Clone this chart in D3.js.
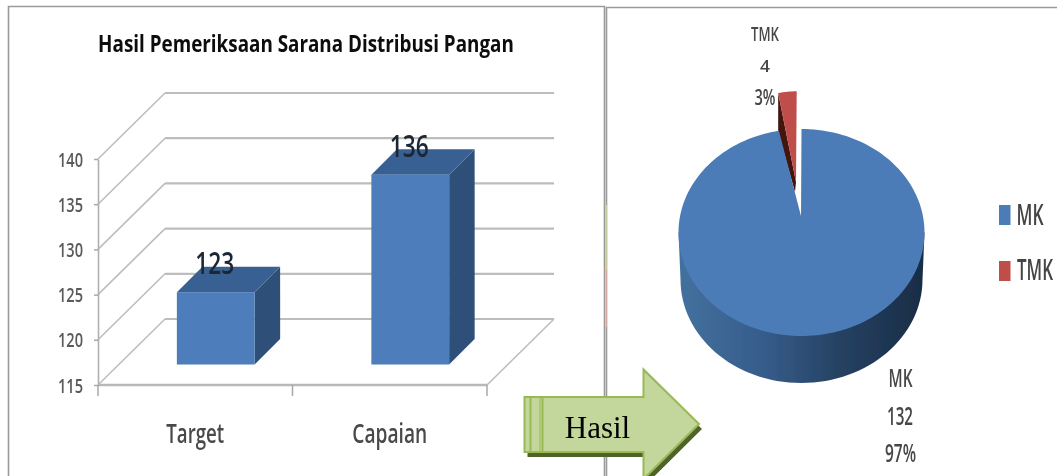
<!DOCTYPE html>
<html><head><meta charset="utf-8">
<script src="https://cdn.jsdelivr.net/npm/d3@7"></script>
<style>html,body{margin:0;padding:0;background:#fff;overflow:hidden}svg{display:block}</style>
</head><body><div id="c"></div>
<script>
const chartTitle = "Hasil Pemeriksaan Sarana Distribusi Pangan";
const categories = ["Target", "Capaian"];
const barValues = [123, 136];
const yTicks = [115, 120, 125, 130, 135, 140];
const pieLabels = ["MK", "TMK"];
const pieValues = [132, 4];
const arrowLabel = "Hasil";

const W = 1057, H = 476;
const svg = d3.select("#c").append("svg").attr("width", W).attr("height", H);
const defs = svg.append("defs");
defs.append("filter").attr("id", "soft").attr("filterUnits", "userSpaceOnUse")
  .attr("x", 0).attr("y", 0).attr("width", W).attr("height", H)
  .append("feGaussianBlur").attr("stdDeviation", 0.6);
const sideGrad = defs.append("linearGradient").attr("id", "sideGrad");
[[0, "#44719f"], [0.35, "#365c8a"], [0.65, "#264263"], [1, "#182c45"]].forEach(([o, c]) =>
  sideGrad.append("stop").attr("offset", o).attr("stop-color", c));

const FONT = "'Open Sans', sans-serif";
// draws text centred on x, squeezed horizontally to the width it has in the picture
function fit(g, str, x, y, len, size, color, weight) {
  const t = g.append("text").text(str)
    .attr("text-anchor", "middle").attr("font-family", FONT)
    .attr("font-size", size).attr("font-weight", weight || 600).attr("fill", color);
  const natural = t.node().getComputedTextLength();
  t.attr("transform", `translate(${x},${y}) scale(${len / natural},1)`);
  return t;
}

// panels
const frame = svg.append("g").attr("fill", "none").attr("stroke", "#9a9a9a");
frame.append("path").attr("d", "M8.5,476V6.5H604.5V476").attr("stroke-width", 1.6);
frame.append("path").attr("d", "M606.5,476V7.5H1057").attr("stroke-width", 1.6);
frame.append("line").attr("x1", 606.5).attr("x2", 606.5).attr("y1", 205).attr("y2", 270).attr("stroke", "#c9cc9c");
frame.append("line").attr("x1", 606.5).attr("x2", 606.5).attr("y1", 270).attr("y2", 327).attr("stroke", "#d8a6a4");

// ---- 3D column chart ----
const left = svg.append("g").attr("filter", "url(#soft)");
const y = d3.scaleLinear().domain([115, 140]).range([385, 159]);
const x = d3.scaleBand().domain(categories).range([98, 487]).paddingInner(0.6).paddingOuter(0.3);
const wallDx = 67, wallDy = -66, barInset = 20.5, barDepth = 25.5;

fit(left, chartTitle, 306, 52, 416, 23, "#0c0c0c", 700);

const grid = left.append("g");
grid.selectAll("line.back").data(yTicks).join("line").attr("class", "back")
  .attr("x1", 98 + wallDx).attr("x2", 487 + wallDx)
  .attr("y1", d => y(d) + wallDy).attr("y2", d => y(d) + wallDy)
  .attr("stroke", "#bdbdbd").attr("stroke-width", 2.2);
grid.selectAll("line.wall").data(yTicks).join("line").attr("class", "wall")
  .attr("x1", 98).attr("x2", 98 + wallDx)
  .attr("y1", d => y(d)).attr("y2", d => y(d) + wallDy)
  .attr("stroke", "#bdbdbd").attr("stroke-width", 1.6);
grid.append("line").attr("x1", 487).attr("x2", 487 + wallDx)
  .attr("y1", y(115)).attr("y2", y(115) + wallDy)
  .attr("stroke", "#bdbdbd").attr("stroke-width", 1.6);

const yAxis = left.append("g").attr("transform", "translate(98,0)")
  .call(d3.axisLeft(y).tickValues(yTicks).tickSize(4).tickSizeOuter(0).tickFormat(""));
yAxis.select(".domain").attr("stroke", "#b0b0b0").attr("stroke-width", 1.6);
yAxis.selectAll(".tick line").attr("stroke", "#a8a8a8").attr("stroke-width", 1.5);
yTicks.forEach(v => fit(left, v, 70.5, y(v) + 7.5, 25, 20.5, "#5a5a5a"));

const floor = left.append("g");
floor.append("line").attr("x1", 98).attr("x2", 487).attr("y1", y(115)).attr("y2", y(115))
  .attr("stroke", "#b8b8b8").attr("stroke-width", 2.6);
floor.append("line").attr("x1", 98).attr("x2", 98).attr("y1", y(115)).attr("y2", y(115) + 11)
  .attr("stroke", "#a8a8a8").attr("stroke-width", 1.5);
categories.forEach(c => {
  const xr = x(c) + x.bandwidth() / 2 + x.step() / 2;
  floor.append("line").attr("x1", xr).attr("x2", xr).attr("y1", y(115)).attr("y2", y(115) + 11)
    .attr("stroke", "#a8a8a8").attr("stroke-width", 1.5);
});

const bars = left.selectAll("g.bar").data(categories.map((c, i) => ({ c, v: barValues[i] }))).join("g").attr("class", "bar");
bars.each(function (d) {
  const g = d3.select(this);
  const x0 = x(d.c) + barInset, x1 = x0 + x.bandwidth();
  const yb = y(115) - barInset, yt = y(d.v) - barInset;
  g.append("polygon").attr("fill", "#2f5078")
    .attr("points", [[x1, yb], [x1, yt], [x1 + barDepth, yt - barDepth], [x1 + barDepth, yb - barDepth]].join(" "));
  g.append("polygon").attr("fill", "#386192")
    .attr("points", [[x0, yt], [x1, yt], [x1 + barDepth, yt - barDepth], [x0 + barDepth, yt - barDepth]].join(" "));
  g.append("rect").attr("x", x0).attr("y", yt).attr("width", x.bandwidth()).attr("height", yb - yt).attr("fill", "#4d7ebb");
  fit(left, d.v, x0 + x.bandwidth() / 2 - 1, yt - 18, 39, 30, "#1c2836");
});

categories.forEach((c, i) => {
  fit(left, c, x(c) + x.bandwidth() / 2, 443, i ? 75 : 58, 27, "#4a4a4a");
});

// ---- 3D pie chart ----
const right = svg.append("g").attr("filter", "url(#soft)");
const pcx = 801.5, pcy = 232.5, prx = 123, pry = 103.5, depth = 47;
const apex = [801, 216];
const ell = a => [pcx + prx * Math.sin(a), pcy - pry * Math.cos(a)];
const total = d3.sum(pieValues);
const arcs = d3.pie().sort(null)(pieValues);
const pct = d3.format(".0%");
const line = d3.line();

// exploded small slice
const t = arcs[1];
const shiftPt = p => [pcx - 4.8 + 0.82 * (p[0] - pcx), p[1] - 37.7];
const tArc = d3.range(t.startAngle, t.endAngle + 1e-6, (t.endAngle - t.startAngle) / 8).map(a => shiftPt(ell(a)));
const tApexTop = [796, 182], tApexLow = [795, 192];
right.append("path").attr("fill", "#431210")
  .attr("d", line([tArc[0], [tArc[0][0], tArc[0][1] + 39], tApexLow, tApexTop]) + "Z");
right.append("path").attr("fill", "#bf4d4a").attr("d", line([tApexTop, ...tArc]) + "Z");

// main pie: side then top
const bottomRx = 121;
const side = d3.path();
side.moveTo(pcx - prx, pcy);
side.lineTo(pcx - bottomRx, pcy + depth);
side.bezierCurveTo(pcx - bottomRx, pcy + depth + 57, pcx - 67, pcy + depth + pry, pcx, pcy + depth + pry);
side.bezierCurveTo(pcx + 67, pcy + depth + pry, pcx + bottomRx, pcy + depth + 57, pcx + bottomRx, pcy + depth);
side.lineTo(pcx + prx, pcy);
side.closePath();
right.append("path").attr("d", side.toString()).attr("fill", "url(#sideGrad)");

const m = arcs[0];
const mArc = d3.range(0, 181).map(i => ell(m.startAngle + (m.endAngle - m.startAngle) * i / 180));
right.append("path").attr("fill", "#4c7cb8").attr("d", line([apex, ...mArc]) + "Z");

// data labels (label, value, percent)
const lblColor = "#474747";
fit(right, pieLabels[1], 765, 41, 28, 20, lblColor);
fit(right, pieValues[1], 765, 72, 10, 17, lblColor);
fit(right, pct(pieValues[1] / total), 765, 105, 21, 21, lblColor);
fit(right, pieLabels[0], 900.5, 387, 24, 25, lblColor);
fit(right, pieValues[0], 900, 425, 26, 25, lblColor);
fit(right, pct(pieValues[0] / total), 900.5, 462, 31, 25, lblColor);

// legend
const legendColors = ["#4c7cb8", "#bf4d4a"];
const legendY = [205, 261], legendText = [[1030, 27, 225], [1035, 36, 280]];
pieLabels.forEach((l, i) => {
  right.append("rect").attr("x", 999).attr("y", legendY[i]).attr("width", 11.5).attr("height", 20).attr("fill", legendColors[i]);
  fit(right, l, legendText[i][0], legendText[i][2], legendText[i][1], 29, "#444");
});

// ---- arrow ----
const arrow = svg.append("g");
const arrowPts = [[524.5, 397], [643.5, 397], [643.5, 369.5], [699, 424], [643.5, 479], [643.5, 452], [524.5, 452]];
arrow.append("polygon").attr("points", arrowPts.map(p => [p[0] + 3, p[1] + 5]).join(" ")).attr("fill", "#4f6228");
arrow.append("polygon").attr("points", arrowPts.join(" "))
  .attr("fill", "#c3d69b").attr("stroke", "#98b954").attr("stroke-width", 2);
[[530.5, 2], [540, 1], [542.5, 2]].forEach(([sx, sw]) =>
  arrow.append("line").attr("x1", sx).attr("x2", sx).attr("y1", 397).attr("y2", 452)
    .attr("stroke", "#98b954").attr("stroke-width", sw));
arrow.append("text").text(arrowLabel).attr("x", 597.5).attr("y", 438)
  .attr("text-anchor", "middle").attr("font-family", "'Liberation Serif', serif")
  .attr("font-size", 31).attr("fill", "#000");
</script></body></html>
